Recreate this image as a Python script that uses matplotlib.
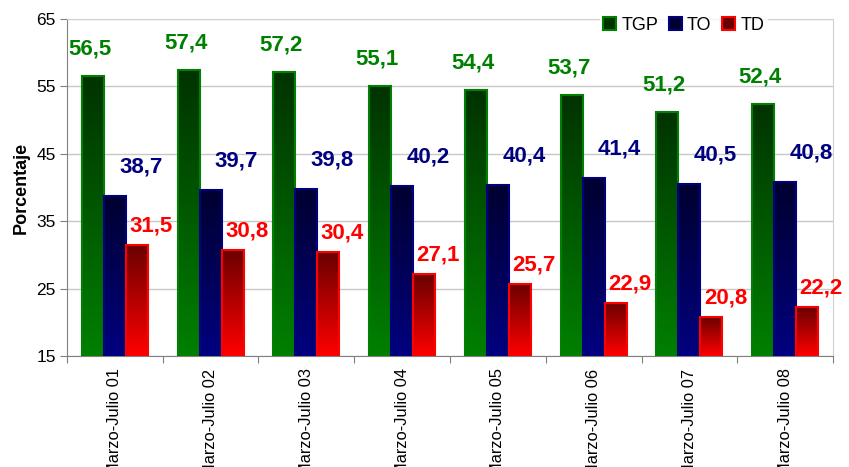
import matplotlib
matplotlib.use('Agg')
import matplotlib.pyplot as plt
import matplotlib.patches as patches
from matplotlib.colors import LinearSegmentedColormap
import numpy as np

plt.rcParams['font.family'] = ['Liberation Sans', 'DejaVu Sans']

# Data
categories = ['Marzo-Julio 01', 'Marzo-Julio 02', 'Marzo-Julio 03', 'Marzo-Julio 04',
              'Marzo-Julio 05', 'Marzo-Julio 06', 'Marzo-Julio 07', 'Marzo-Julio 08']
tgp = [56.5, 57.4, 57.2, 55.1, 54.4, 53.7, 51.2, 52.4]
to = [38.7, 39.7, 39.8, 40.2, 40.4, 41.4, 40.5, 40.8]
td = [31.5, 30.8, 30.4, 27.1, 25.7, 22.9, 20.8, 22.2]
series_names = ['TGP', 'TO', 'TD']

# Styles: (edge/base colour, dark top colour, label offset in pixels)
styles = [
    ('#008000', '#003300', (-3, 27)),
    ('#000080', '#000030', (26, 29)),
    ('#ff0000', '#6a0000', (14, 19)),
]

fig = plt.figure(figsize=(8.49, 4.67), dpi=100)
ax = fig.add_axes([0.0789, 0.2377, 0.9023, 0.7216])

x = np.arange(len(categories))
w = 0.23
grad = np.linspace(0, 1, 256).reshape(-1, 1)

for i, (vals, (base, dark, off)) in enumerate(zip([tgp, to, td], styles)):
    cmap = LinearSegmentedColormap.from_list('g%d' % i, [base, dark])
    bars = ax.bar(x + (i - 1) * w, np.array(vals) - 15, w, bottom=15,
                  facecolor='none', edgecolor=base, linewidth=1.5, zorder=3)
    for b, v in zip(bars, vals):
        x0, y0 = b.get_x(), b.get_y()
        im = ax.imshow(grad, cmap=cmap, aspect='auto', origin='lower',
                       extent=(x0, x0 + b.get_width(), y0, y0 + b.get_height()),
                       zorder=2.5)
        im.set_clip_path(b)
        ax.annotate(f'{v:.1f}'.replace('.', ','), (b.get_x() + b.get_width() / 2, v),
                    xytext=off, textcoords='offset pixels', ha='center', va='center',
                    color=base, fontsize=16, fontweight='bold', zorder=5)

ax.set_xlim(-0.5, len(categories) - 0.5)
ax.set_ylim(15, 65)
ax.set_yticks(np.arange(15, 66, 10))
ax.tick_params(axis='y', labelsize=12.5, direction='out', length=5, color='#808080', pad=3)

ax.set_xticks(np.arange(-0.5, len(categories)), labels=[''] * (len(categories) + 1))
ax.set_xticks(x, labels=categories, minor=True)
ax.tick_params(axis='x', which='major', direction='out', length=5, color='#808080')
ax.tick_params(axis='x', which='minor', length=0, labelsize=11.8, pad=9, labelrotation=90)

ax.grid(axis='y', color='#c8c8c8', linewidth=1, zorder=0)
ax.set_axisbelow(True)
for s in ['left', 'bottom']:
    ax.spines[s].set_color('#808080')
for s in ['top', 'right']:
    ax.spines[s].set_color('#d0d0d0')

ax.set_ylabel('Porcentaje', fontsize=13, fontweight='bold', labelpad=5)

handles = [patches.Rectangle((0, 0), 1, 1, facecolor=d, edgecolor=b, linewidth=1.5)
           for b, d, _ in styles]
leg = ax.legend(handles, series_names, loc='center', bbox_to_anchor=(0.805, 0.982),
                ncol=3, frameon=True, fontsize=13, handlelength=0.7, handleheight=0.7,
                handletextpad=0.3, columnspacing=0.6, borderpad=0.2, fancybox=False)
leg.get_frame().set_facecolor('white')
leg.get_frame().set_edgecolor('none')
leg.set_zorder(6)

fig.savefig('out.png', dpi=100)
plt.close(fig)
